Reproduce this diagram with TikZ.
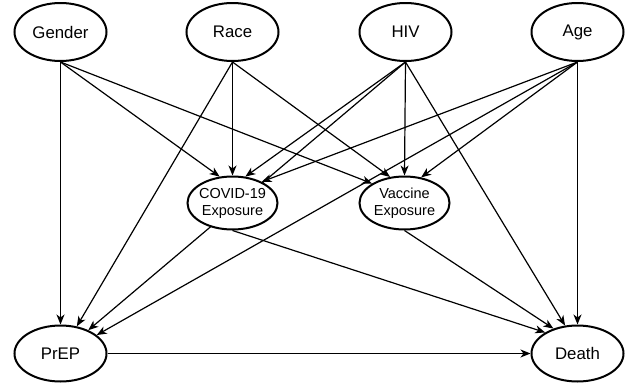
\documentclass[tikz,border=0pt]{standalone}
\usepackage{fontspec}
\setmainfont{Liberation Sans}
\usetikzlibrary{shapes.geometric,arrows.meta}
\pgfdeclarelayer{bg}
\pgfsetlayers{bg,main}
\begin{document}
\begin{tikzpicture}[x=1pt,y=-1pt,
  var/.style={ellipse,draw,line width=2pt,fill=white,inner sep=0pt,
    minimum width=92pt,minimum height=58pt,font=\fontsize{16.8}{19}\selectfont},
  mid/.style={var,minimum width=90pt,minimum height=53pt,inner xsep=-8pt,
    align=center,font=\fontsize{14.5}{17}\selectfont},
  edge/.style={line width=1.2pt,-{Stealth[length=10pt,width=8pt,inset=3pt]}}]
\useasboundingbox (0,0) rectangle (637,383);
\node[var] (gender) at (60.5,32) {Gender};
\node[var] (race) at (232.5,32) {Race};
\node[var] (hiv) at (405.5,32) {HIV};
\node[var] (age) at (577.5,32) {Age};
\node[mid] (covid) at (232.5,203) {COVID-19\\Exposure};
\node[mid] (vacc) at (404.5,203) {Vaccine\\Exposure};
\node[var,minimum height=56pt] (prep) at (60.5,353.5) {PrEP};
\node[var,minimum height=56pt] (death) at (577.5,353.5) {Death};
\begin{pgfonlayer}{bg}
\draw[edge] (gender.south) -- (prep.90);
\draw[edge] (gender.south) -- (covid.116.6);
\draw[edge] (gender.south) -- (vacc.149.5);
\draw[edge] (race.south) -- (prep.59.2);
\draw[edge] (race.south) -- (covid.90);
\draw[edge] (race.south) -- (vacc.119.5);
\draw[edge] (hiv.south) -- (covid.64.2);
\draw[edge] (hiv.south) -- (vacc.90);
\draw[edge] (hiv.south) -- (death.114.7);
\draw[edge] (hiv.south) -- (prep.40.4);
\draw[edge] (age.south) -- (covid.36.6);
\draw[edge] (age.south) -- (vacc.57.7);
\draw[edge] (age.south) -- (prep.27.1);
\draw[edge] (age.south) -- (death.90);
\draw[edge] (covid.south) -- (death.147.6);
\draw[edge] (vacc.south) -- (death.134.5);
\draw[edge] (prep.east) -- (death.west);
\end{pgfonlayer}
\end{tikzpicture}
\end{document}
